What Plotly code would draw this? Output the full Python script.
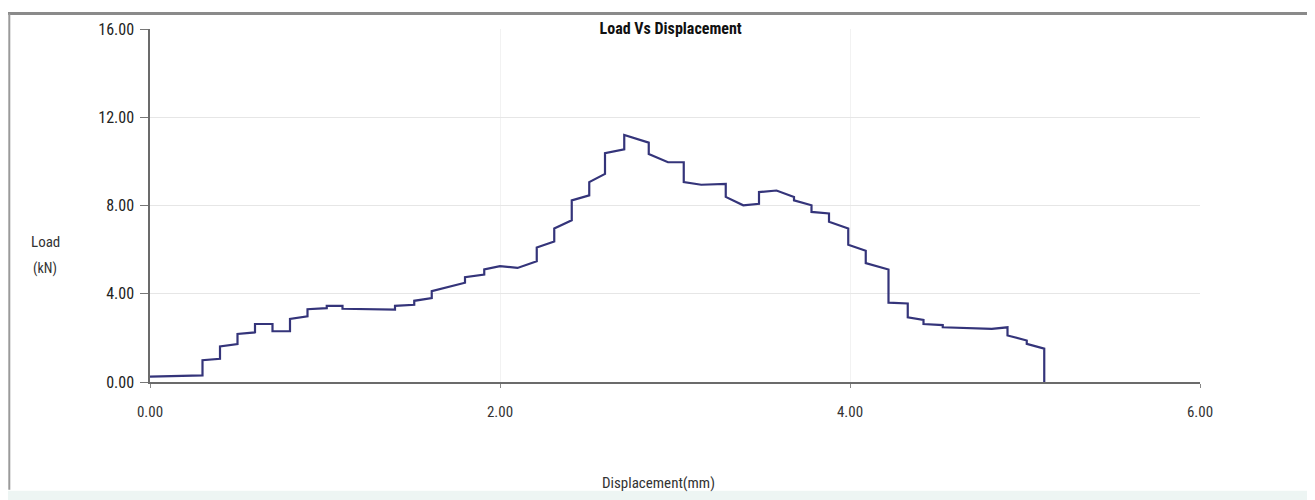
import plotly.graph_objects as go

# Step curve vertices (displacement mm, load kN)
disp_mm = [
    0.00, 0.30, 0.30, 0.40, 0.40, 0.50, 0.50, 0.60, 0.60, 0.70, 0.70, 0.80,
    0.80, 0.90, 0.90, 1.01, 1.01, 1.10, 1.10, 1.40, 1.40, 1.51, 1.51, 1.61,
    1.61, 1.80, 1.80, 1.91, 1.91, 2.00, 2.10, 2.21, 2.21, 2.31, 2.31, 2.41,
    2.41, 2.51, 2.51, 2.60, 2.60, 2.71, 2.71, 2.85, 2.85, 2.96, 3.05, 3.05,
    3.15, 3.29, 3.29, 3.39, 3.48, 3.48, 3.58, 3.68, 3.68, 3.78, 3.78, 3.88,
    3.88, 3.99, 3.99, 4.09, 4.09, 4.22, 4.22, 4.33, 4.33, 4.42, 4.42, 4.53,
    4.53, 4.81, 4.90, 4.90, 5.01, 5.01, 5.11, 5.11,
]
load_kn = [
    0.24, 0.30, 0.99, 1.05, 1.61, 1.72, 2.18, 2.25, 2.63, 2.63, 2.30, 2.30,
    2.86, 2.98, 3.30, 3.35, 3.45, 3.45, 3.32, 3.28, 3.45, 3.50, 3.68, 3.80,
    4.12, 4.50, 4.75, 4.87, 5.10, 5.25, 5.17, 5.47, 6.10, 6.37, 6.96, 7.33,
    8.23, 8.46, 9.06, 9.43, 10.37, 10.55, 11.20, 10.85, 10.33, 9.96, 9.96, 9.06,
    8.94, 8.98, 8.39, 8.01, 8.08, 8.61, 8.68, 8.39, 8.23, 8.01, 7.71, 7.64,
    7.26, 6.96, 6.22, 5.95, 5.39, 5.10, 3.60, 3.56, 2.93, 2.81, 2.63, 2.58,
    2.48, 2.41, 2.48, 2.11, 1.88, 1.73, 1.51, 0.00,
]

x_ticks = [0, 2, 4, 6]
y_ticks = [0, 4, 8, 12, 16]
FONT = "Liberation Sans Narrow, Arial Narrow, Roboto Condensed, sans-serif"

fig = go.Figure()
fig.add_trace(go.Scatter(
    x=disp_mm, y=load_kn, mode="lines",
    line=dict(color="#34347a", width=2.2),
    showlegend=False, hoverinfo="x+y",
))

# page has an 8px body margin, so the figure is sized/offset to compensate
fig.update_layout(
    width=1307, height=492,
    paper_bgcolor="white", plot_bgcolor="white",
    margin=dict(l=142, r=115, t=17, b=118),
    font=dict(family=FONT, size=15, color="#222"),
    title=dict(text="<b>Load Vs Displacement</b>", x=0.507, xanchor="center",
               y=0.959, yanchor="middle", font=dict(family=FONT, size=16, color="#111")),
    showlegend=False,
)
fig.update_xaxes(
    range=[0, 6], tickvals=x_ticks, tickformat=".2f",
    showline=True, linecolor="#6b6b6b", linewidth=2,
    showgrid=True, gridcolor="#f2f2f2", gridwidth=1, zeroline=False,
    ticks="outside", ticklen=4, tickcolor="#888",
    ticklabelstandoff=11, tickfont=dict(size=15, color="#333"),
)
fig.update_yaxes(
    range=[0, 16], tickvals=y_ticks, tickformat=".2f",
    showline=True, linecolor="#6b6b6b", linewidth=1.5,
    showgrid=True, gridcolor="#e6e6e6", gridwidth=1, zeroline=False,
    ticks="outside", ticklen=8, tickcolor="#777",
    ticklabelstandoff=3, tickfont=dict(size=16, color="#222"),
)

# axis titles
fig.add_annotation(text="Load", xref="paper", yref="paper",
                   x=-0.10, y=0.398, xanchor="center", yanchor="middle",
                   showarrow=False, font=dict(family=FONT, size=15, color="#333"))
fig.add_annotation(text="(kN)", xref="paper", yref="paper",
                   x=-0.10, y=0.322, xanchor="center", yanchor="middle",
                   showarrow=False, font=dict(family=FONT, size=14, color="#333"))
fig.add_annotation(text="Displacement(mm)", xref="paper", yref="paper",
                   x=0.484, y=-0.285, xanchor="center", yanchor="middle",
                   showarrow=False, font=dict(family=FONT, size=15, color="#333"))

# window frame decorations
fig.add_shape(type="line", xref="paper", yref="paper", x0=-0.15, x1=1.11,
              y0=1.044, y1=1.044, line=dict(color="#8a8a8a", width=3))
fig.add_shape(type="line", xref="paper", yref="paper", x0=-0.134, x1=-0.134,
              y0=1.044, y1=-0.305, line=dict(color="#9a9a9a", width=2))
fig.add_shape(type="rect", xref="paper", yref="paper", x0=-0.15, x1=1.11,
              y0=-0.308, y1=-0.34, line=dict(width=0), fillcolor="#edf5f3")

fig.write_html("out.html")
